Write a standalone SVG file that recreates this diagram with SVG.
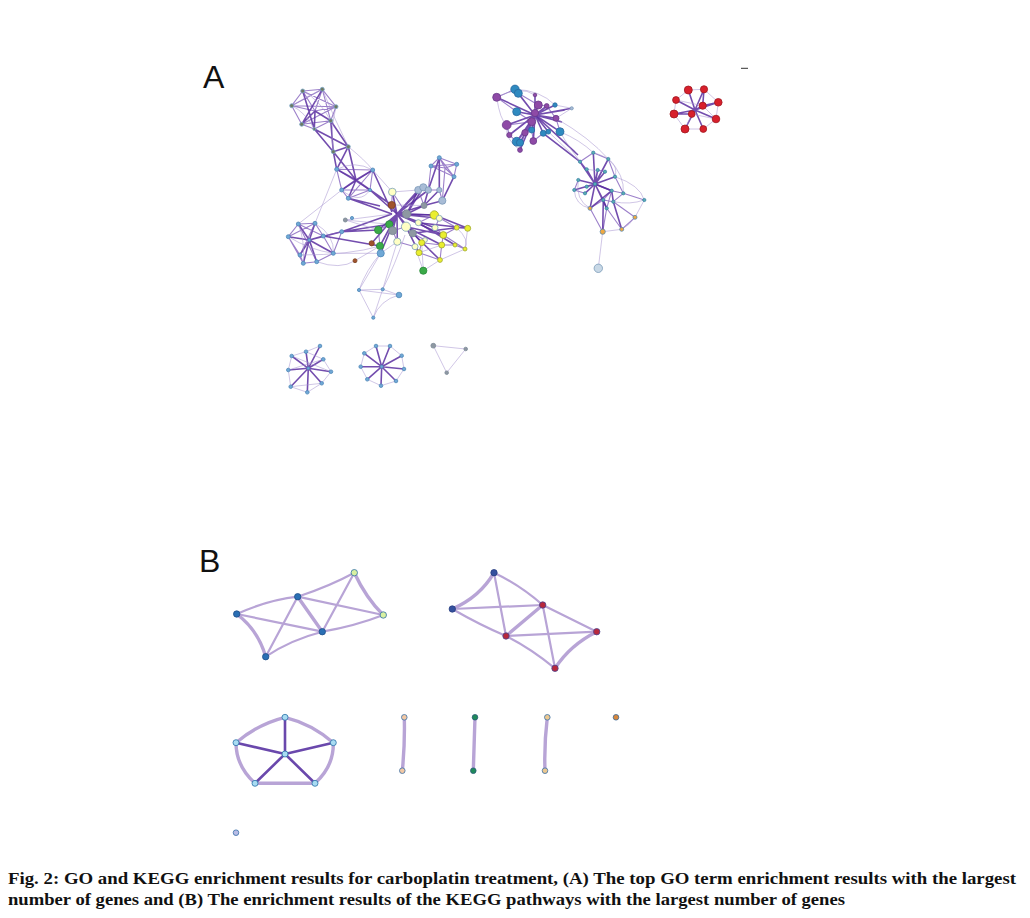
<svg xmlns="http://www.w3.org/2000/svg" width="1030" height="918" viewBox="0 0 1030 918">
<style>
.lbl{font-family:"Liberation Sans",Arial,sans-serif;font-size:32px;fill:#111}
.cap{font-family:"Liberation Serif","Times New Roman",serif;font-weight:bold;font-size:17px;fill:#111}
.d{stroke:#5a2ea0;stroke-width:1.6;fill:none;stroke-opacity:.85}
.m{stroke:#7b55b8;stroke-width:1.1;fill:none;stroke-opacity:.75}
.l{stroke:#a894d0;stroke-width:.9;fill:none;stroke-opacity:.6}
.bl{stroke:#b8a4d6;stroke-width:2.2;fill:none;stroke-linecap:round}
.bt{stroke:#b8a4d6;stroke-width:3.4;fill:none;stroke-linecap:round}
.bd{stroke:#6a48ac;stroke-width:2.6;fill:none;stroke-linecap:round}
circle{stroke-width:.8}
.sg{fill:#6e7a62;stroke:#7aa6c8}
.sb{fill:#6fa8d6;stroke:#4f88b8}
.py{fill:#ffffc4;stroke:#7aa0b8}
.ls{fill:#a8bcd6;stroke:#7a98b8}
.gr{fill:#8e98a2;stroke:#7a8896}
.br{fill:#a0522d;stroke:#7a4020}
.gn{fill:#3aaa48;stroke:#2a8a3a}
.yl{fill:#eaee30;stroke:#a0a830}
.pu{fill:#8e4aa6;stroke:#6a3a8a}
.bu{fill:#2f8ac0;stroke:#2a6aa0}
.tl{fill:#5ab0b0;stroke:#3a80a8}
.or{fill:#f0a840;stroke:#5a8ab0}
.rd{fill:#d8202c;stroke:#a0181f}
</style>

<text class="lbl" x="203" y="88">A</text>
<text class="lbl" x="199" y="572">B</text>
<line x1="741" y1="68.3" x2="748" y2="68.3" stroke="#333" stroke-width="1"/>

<g id="connectors">
<g id="edges-a-topleft">
<path class="m" d="M302.7,91L322.3,89.3M302.7,91L291.7,105.7M302.7,91L315,111M302.7,91L336,106.7M322.3,89.3L315,111M322.3,89.3L336,106.7M322.3,89.3L291.7,105.7M322.3,89.3L330.7,120.7M291.7,105.7L315,111M291.7,105.7L301.7,124.3M291.7,105.7L336,106.7M336,106.7L315,111M336,106.7L330.7,120.7M336,106.7L301.7,124.3M301.7,124.3L314.3,129M301.7,124.3L330.7,120.7M330.7,120.7L314.3,129"/>
<path class="d" d="M315,111L330.7,120.7M315,111L301.7,124.3M315,111L314.3,129M302.7,91L314.3,129M322.3,89.3L301.7,124.3M314.3,129L333.3,151.7M330.7,120.7L333.3,151.7M330.7,120.7L348.3,146.7M314.3,129L348.3,146.7M333.3,151.7L348.3,146.7M333.3,151.7L336.7,169.3M348.3,146.7L336.7,169.3M348.3,146.7L356,180M333.3,151.7L356,180"/>
<path class="l" d="M302.7,91Q320,100 330.7,120.7M291.7,105.7Q305,112 314.3,129M336,106.7Q330,130 333.3,151.7M322.3,89.3Q335,120 348.3,146.7M291.7,105.7Q310,95 322.3,89.3"/>
<path class="m" d="M336.7,169.3L372.7,170M336.7,169.3L341.7,190M372.7,170L370,190M341.7,190L348.3,198.3M348.3,198.3L370,190M336.7,169.3L370,190M372.7,170L341.7,190M341.7,190L370,190M348.3,198.3L372.7,170"/>
<path class="d" d="M356,180L336.7,169.3M356,180L372.7,170M356,180L341.7,190M356,180L348.3,198.3M356,180L370,190M348.3,198.3L380,206M370,190L391.7,205M356,180L391.7,205M370,190L397,214M372.7,170L392,212M348.3,198.3L392,214"/>
<path class="l" d="M336.7,169.3Q355,160 372.7,170M341.7,190Q360,205 370,190M348.3,146.7Q365,160 372.7,170"/>
</g>
<g id="edges-a-left">
<path class="d" d="M309.3,240L298.3,224M309.3,240L315,223.3M309.3,240L288.3,236.7M309.3,240L323.3,236M309.3,240L341.7,231.7M309.3,240L300,255M309.3,240L316.7,261.7M309.3,240L333.3,253.3M309.3,240L303.3,263.3"/>
<path class="m" d="M298.3,224L315,223.3M298.3,224L288.3,236.7M315,223.3L323.3,236M323.3,236L341.7,231.7M288.3,236.7L300,255M300,255L303.3,263.3M303.3,263.3L316.7,261.7M316.7,261.7L333.3,253.3M333.3,253.3L341.7,231.7M288.3,236.7L303.3,263.3M298.3,224L323.3,236M315,223.3L288.3,236.7M333.3,253.3L323.3,236M298.3,224L316.7,261.7M315,223.3L300,255"/>
<path class="l" d="M298.3,224Q305,240 303.3,263.3M288.3,236.7Q310,250 333.3,253.3M315,223.3Q335,235 333.3,253.3M298.3,224L341.7,190M315,223.3L336.7,169.3"/>
<path class="d" d="M341.7,231.7L378.3,230M341.7,231.7L389.3,224.3M341.7,231.7L392,214M323.3,236L380,246"/>
<path class="l" d="M333.3,253.3L380.7,253.3M300,255Q350,255 380,246M316.7,261.7Q340,270 355,260.7M345.3,220L378.3,230M345.3,220L392,214M345.3,220L389.3,224.3"/>
</g>
<g id="edges-a-center">
<path class="d" d="M397,214L392.3,192M397,214L391.7,205M397,214L406.7,214M397,214L389.3,224.3M397,214L378.3,230M397,214L406,226.7M397,214L392.7,230.7M397,214L418.3,222.7M397,214L412.7,233.3M397,214L397.3,241.7M397,214L380,246M397,214L371.7,243.3M397,214L424,205.5M397,214L418.3,190M397,214L434.3,215M397,214L439.3,218.3M397,214L423.3,187.3M397,214L428.3,190M397,214L435,227.7M397,214L380.7,253.3M397,214L421.7,242.7M397,214L443.3,235"/>
<path class="d" d="M406.7,214L424,205.5M406.7,214L434.3,215M406.7,214L418.3,190M406.7,214L423.3,187.3M406,226.7L441.7,245M406,226.7L443.3,235M406,226.7L419,252.7M412.7,233.3L440,260M412.7,233.3L456.7,227.7M418.3,222.7L467.7,228.3M418.3,222.7L455,245M424,205.5L428.3,190M424,205.5L442.3,200.7M424,205.5L439.3,190M428.3,190L439.3,157.7M439.3,190L439.3,157.7M442.3,200.7L454,176.7M434.3,215L467.7,228.3"/>
<path class="m" d="M392.3,192L391.7,205M392.3,192L406.7,214M418.3,190L423.3,187.3M423.3,187.3L428.3,190M428.3,190L439.3,190M439.3,190L442.3,200.7M418.3,190L424,205.5M389.3,224.3L378.3,230M378.3,230L380,246M380,246L380.7,253.3M389.3,224.3L392.7,230.7M392.7,230.7L397.3,241.7M406,226.7L392.7,230.7M397.3,241.7L415,246.7M415,246.7L419,252.7M419,252.7L421.7,242.7M421.7,242.7L441.7,245M441.7,245L443.3,235M443.3,235L456.7,227.7M456.7,227.7L467.7,228.3M441.7,245L455,245M455,245L465,249M440,260L441.7,245M440,260L419,252.7M435,227.7L443.3,235M434.3,215L439.3,218.3M439.3,218.3L435,227.7M412.7,233.3L425,240M425,240L421.7,242.7M434.3,215L456.7,227.7M443.3,235L465,249M418.3,222.7L434.3,215"/>
<path class="m" d="M439.3,157.7L431,166M439.3,157.7L456.7,164.3M431,166L454,176.7M456.7,164.3L454,176.7M431,166L456.7,164.3M439.3,157.7L454,176.7M445,168L439.3,157.7M445,168L431,166M445,168L456.7,164.3M445,168L454,176.7M431,166L428.3,190M445,168L442.3,200.7"/>
<path class="l" d="M421.7,242.7L423.3,270.7M440,260L423.3,270.7M415,246.7L423.3,270.7M380.7,253.3L359,290M397.3,241.7L382.7,289.3M380.7,253.3Q366,270 359,290M405,235Q395,265 382.7,289.3M419,252.7L441.7,245M440,260L465,249M467.7,228.3L465,249M456.7,227.7Q470,240 465,249M392.3,192L372.7,170M418.3,190L392.3,192M391.7,205L424,205.5M380.7,253.3L397.3,241.7M355,260.7L380,246"/>
</g>
<g id="edges-a-quad">
<path class="l" d="M359,290L382.7,289.3M359,290L373.3,317.7M382.7,289.3L373.3,317.7M382.7,289.3L399,295M399,295Q380,300 373.3,317.7M359,290L399,295"/>
</g>
<g id="edges-a-right">
<path class="d" d="M535,115L515,89.3M535,115L518.3,93.3M535,115L496.7,97.3M535,115L535,95M535,115L538.3,105M535,115L546.7,106M535,115L555,105M535,115L556,118.3M535,115L516.7,111.7M535,115L506.7,125M535,115L531.7,121.7M535,115L531.7,130M535,115L525,132.7M535,115L560,131.7M535,115L543.3,133.3M535,115L548.3,131.7M535,115L509.3,135M535,115L516.7,141.7M535,115L520,142.7M535,115L533.3,141M535,115L520,150M535,115L571.7,108.3M535,115L565,110M535,115L562,122"/>
<path class="m" d="M531.7,121.7L506.7,125M531.7,121.7L525,132.7M531.7,121.7L546.7,106M538.3,105L546.7,106M546.7,106L556,118.3M556,118.3L560,131.7M525,132.7L516.7,141.7M509.3,135L516.7,141.7M506.7,125L509.3,135M496.7,97.3L515,89.3M515,89.3L518.3,93.3M518.3,93.3L538.3,105M496.7,97.3L516.7,111.7M516.7,111.7L531.7,121.7M533.3,141L543.3,133.3M543.3,133.3L548.3,131.7M531.7,130L533.3,141M520,150L525,132.7"/>
<path class="l" d="M496.7,97.3Q520,85 535,95M496.7,97.3Q500,120 506.7,125M506.7,125Q505,140 520,150M515,89.3Q540,90 555,105M555,105L571.7,108.3M571.7,108.3L556,118.3"/>
<path class="d" d="M535,115L578,155M543.3,133.3L580,161.7M535,115L575,152"/>
<path class="l" d="M560,131.7Q580,140 593.3,152.7M556,118.3Q590,138 608.3,159M560,131.7Q570,150 586.7,169.3M548.3,131.7L580,161.7"/>
<path class="d" d="M595,184L593.3,152.7M595,184L608.3,159M595,184L580,161.7M595,184L586.7,169.3M595,184L597.7,170M595,184L605,171.7M595,184L578.3,180M595,184L615,176.7M595,184L586.7,186.7M595,184L574.3,190M595,184L585,193.3M595,184L611.7,190.7M595,184L603.3,200M595,184L590,208.3M595,184L606.7,208.3"/>
<path class="m" d="M593.3,152.7L608.3,159M608.3,159L615,176.7M580,161.7L586.7,169.3M578.3,180L574.3,190M574.3,190L585,193.3M611.7,190.7L623.3,193.3M623.3,193.3L613.3,201.7M613.3,201.7L603.3,200M603.3,200L590,208.3M590,208.3L602.7,231.7M606.7,208.3L602.7,231.7M606.7,208.3L621.7,229.3M621.7,229.3L635,217.3M613.3,201.7L635,217.3M623.3,193.3L644.3,200M611.7,190.7L603.3,200M611.7,190.7L606.7,208.3M615,176.7L623.3,193.3M580,161.7L593.3,152.7M597.7,170L605,171.7"/>
<path class="d" d="M611.7,190.7L613.3,201.7M611.7,190.7L590,208.3M603.3,200L606.7,208.3M613.3,201.7L621.7,229.3M603.3,200L602.7,231.7M611.7,190.7L595,184"/>
<path class="l" d="M593.3,152.7Q620,160 615,176.7M615,176.7Q640,185 644.3,200M644.3,200L635,217.3M635,217.3Q630,225 621.7,229.3M621.7,229.3L602.7,231.7M574.3,190Q575,205 590,208.3M578.3,180Q575,200 590,208.3M602.7,231.7L598.3,268.3M608.3,159Q625,175 623.3,193.3M586.7,169.3L605,171.7M644.3,200Q630,205 613.3,201.7"/>
</g>
<g id="edges-a-red">
<path class="d" d="M695,110L688.3,90M695,110L704,89.3M695,110L676,100M695,110L718.3,102.3M695,110L702.7,105.7M695,110L674,114M695,110L691.7,114M695,110L716,119M695,110L685,129M695,110L703.3,129M702.7,105.7L718.3,102.3M691.7,114L674,114M702.7,105.7L704,89.3"/>
<path class="l" d="M688.3,90L704,89.3M704,89.3L718.3,102.3M718.3,102.3L716,119M716,119L703.3,129M703.3,129L685,129M685,129L674,114M674,114L676,100M676,100L688.3,90M676,100L702.7,105.7M691.7,114L716,119M691.7,114L685,129M702.7,105.7L716,119"/>
</g>
<g id="edges-a-stars">
<path class="d" d="M308.3,368.3L320,346M308.3,368.3L306,351.7M308.3,368.3L291.7,356M308.3,368.3L323.3,359.3M308.3,368.3L288.3,370M308.3,368.3L331,371.7M308.3,368.3L321.7,383.3M308.3,368.3L290.7,386.7M308.3,368.3L307.3,392.3"/>
<path class="l" d="M306,351.7L291.7,356M306,351.7L323.3,359.3M291.7,356L288.3,370M323.3,359.3L331,371.7M331,371.7L321.7,383.3M321.7,383.3L307.3,392.3M307.3,392.3L290.7,386.7M290.7,386.7L288.3,370M320,346L306,351.7M291.7,356L331,371.7M288.3,370L323.3,359.3M290.7,386.7L321.7,383.3"/>
<path class="d" d="M381.7,366.7L376,346M381.7,366.7L390,346M381.7,366.7L364.3,353.3M381.7,366.7L401.7,355.7M381.7,366.7L360.7,366.7M381.7,366.7L404,369M381.7,366.7L367.3,379.3M381.7,366.7L396,381M381.7,366.7L381,385.7"/>
<path class="l" d="M376,346L390,346M390,346L401.7,355.7M401.7,355.7L404,369M404,369L396,381M396,381L381,385.7M381,385.7L367.3,379.3M367.3,379.3L360.7,366.7M360.7,366.7L364.3,353.3M364.3,353.3L376,346"/>
<path class="l" d="M433.3,345.7L465.7,349L446.7,372.7Z"/>
</g>
<g id="edges-b">
<path class="bl" d="M236.7,614Q268,600 297.7,596.7"/>
<path class="bl" d="M236.7,614L322.3,631.7"/>
<path class="bt" d="M236.7,614Q258,630 265.7,656.7"/>
<path class="bl" d="M297.7,596.7L265.7,656.7"/>
<path class="bt" d="M297.7,596.7L322.3,631.7"/>
<path class="bl" d="M297.7,596.7Q330,586 354.3,572.7"/>
<path class="bl" d="M297.7,596.7L383.3,615"/>
<path class="bl" d="M322.3,631.7L354.3,572.7"/>
<path class="bl" d="M322.3,631.7Q355,626 383.3,615"/>
<path class="bt" d="M354.3,572.7Q366,598 383.3,615"/>
<path class="bl" d="M265.7,656.7Q290,640 322.3,631.7"/>
<path class="bt" d="M494,572.7Q480,597 452.3,609"/>
<path class="bl" d="M494,572.7Q520,585 542.7,605"/>
<path class="bl" d="M494,572.7L506,636"/>
<path class="bl" d="M452.3,609L542.7,605"/>
<path class="bl" d="M452.3,609Q480,625 506,636"/>
<path class="bt" d="M542.7,605L506,636"/>
<path class="bl" d="M542.7,605L596.7,631.7"/>
<path class="bl" d="M542.7,605L555,668.3"/>
<path class="bl" d="M506,636L596.7,631.7"/>
<path class="bl" d="M506,636Q530,648 555,668.3"/>
<path class="bt" d="M596.7,631.7Q570,645 555,668.3"/>
<path class="bt" d="M285,717.3Q258,724 236,742.7"/>
<path class="bt" d="M285,717.3Q312,724 333.3,742.7"/>
<path class="bt" d="M236,742.7Q236,766 255,783.3"/>
<path class="bt" d="M333.3,742.7Q334,766 315,783.3"/>
<path class="bt" d="M255,783.3L315,783.3"/>
<path class="bd" d="M285,754L285,717.3M285,754L236,742.7M285,754L333.3,742.7M285,754L255,783.3M285,754L315,783.3"/>
<path class="bt" d="M404.3,717.3Q405,745 402.3,770.7"/>
<path class="bt" d="M475,717.3L473.3,770.7"/>
<path class="bt" d="M547.3,717.3Q544,745 545,770.7"/>
</g>
</g>

<g id="nodes">
<g id="cluster-a-topleft">
<circle class="sg" cx="302.7" cy="91" r="2"/><circle class="sg" cx="322.3" cy="89.3" r="2"/><circle class="sg" cx="291.7" cy="105.7" r="2"/><circle class="sg" cx="336" cy="106.7" r="2"/><circle class="sg" cx="330.7" cy="120.7" r="2"/><circle class="sg" cx="301.7" cy="124.3" r="2"/><circle class="sg" cx="314.3" cy="129" r="1.5"/><circle class="sg" cx="333.3" cy="151.7" r="2"/><circle class="sg" cx="348.3" cy="146.7" r="2"/>
<circle class="sb" cx="336.7" cy="169.3" r="2"/><circle class="sb" cx="372.7" cy="170" r="2"/><circle class="sb" cx="341.7" cy="190" r="2"/><circle class="sb" cx="348.3" cy="198.3" r="2"/><circle class="sb" cx="370" cy="190" r="1.6"/>
</g>
<g id="cluster-a-left">
<circle class="sb" cx="298.3" cy="224" r="2"/><circle class="sb" cx="315" cy="223.3" r="2"/><circle class="sb" cx="288.3" cy="236.7" r="2"/><circle class="sb" cx="323.3" cy="236" r="2"/><circle class="sb" cx="341.7" cy="231.7" r="2"/><circle class="sb" cx="309.3" cy="240" r="1.6"/><circle class="sb" cx="300" cy="255" r="2"/><circle class="sb" cx="316.7" cy="261.7" r="2"/><circle class="sb" cx="333.3" cy="253.3" r="2"/><circle class="sb" cx="303.3" cy="263.3" r="2"/>
</g>
<g id="cluster-a-center">
<circle class="sb" cx="352" cy="218" r="1.6"/><circle class="gr" cx="345.3" cy="220" r="2"/>
<circle class="py" cx="392.3" cy="192" r="3.8"/>
<circle class="ls" cx="418.3" cy="190" r="3.6"/><circle class="ls" cx="423.3" cy="187.3" r="3.6"/><circle class="ls" cx="428.3" cy="190" r="3.2"/><circle class="ls" cx="439.3" cy="190" r="2.6"/><circle class="ls" cx="442.3" cy="200.7" r="3.6"/>
<circle class="sb" cx="439.3" cy="157.7" r="2"/><circle class="sb" cx="431" cy="166" r="2"/><circle class="sb" cx="456.7" cy="164.3" r="2"/><circle class="sb" cx="454" cy="176.7" r="2"/>
<circle class="gr" cx="424" cy="205.5" r="3"/>
<circle class="br" cx="391.7" cy="205" r="3.6"/>
<circle class="gr" cx="406.7" cy="214" r="4.2"/>
<circle class="yl" cx="434.3" cy="215" r="4.2"/>
<circle class="py" cx="439.3" cy="218.3" r="3"/>
<circle class="gn" cx="389.3" cy="224.3" r="3.6"/>
<circle class="gn" cx="378.3" cy="230" r="3.8"/>
<circle class="py" cx="406" cy="226.7" r="4.6"/>
<circle class="gr" cx="392.7" cy="230.7" r="4"/>
<circle class="py" cx="418.3" cy="222.7" r="3"/>
<circle class="gr" cx="412.7" cy="233.3" r="3.6"/>
<circle class="py" cx="397.3" cy="241.7" r="3.6"/>
<circle class="gn" cx="380" cy="246" r="3.6"/>
<circle class="br" cx="371.7" cy="243.3" r="2.6"/>
<circle class="sb" cx="380.7" cy="253.3" r="3.6"/>
<circle class="br" cx="355" cy="260.7" r="2"/>
<circle class="gn" cx="423.3" cy="270.7" r="3.6"/>
<circle class="py" cx="435" cy="227.7" r="3"/>
<circle class="py" cx="415" cy="246.7" r="3"/>
<circle class="py" cx="425" cy="240" r="2.4"/>
<circle class="yl" cx="421.7" cy="242.7" r="3"/>
<circle class="yl" cx="419" cy="252.7" r="3"/>
<circle class="yl" cx="441.7" cy="245" r="3"/>
<circle class="yl" cx="443.3" cy="235" r="3.4"/>
<circle class="yl" cx="456.7" cy="227.7" r="2.4"/>
<circle class="yl" cx="467.7" cy="228.3" r="3"/>
<circle class="yl" cx="440" cy="260" r="2.4"/>
<circle class="yl" cx="455" cy="245" r="2"/>
<circle class="yl" cx="465" cy="249" r="2"/>
</g>
<g id="cluster-a-quad">
<circle class="sb" cx="359" cy="290" r="1.6"/><circle class="sb" cx="382.7" cy="289.3" r="1.6"/><circle class="sb" cx="399" cy="295" r="2.8"/><circle class="sb" cx="373.3" cy="317.7" r="1.6"/>
</g>
<g id="cluster-a-right">
<circle class="bu" cx="515" cy="89.3" r="4.2"/><circle class="bu" cx="518.3" cy="93.3" r="4"/><circle class="pu" cx="496.7" cy="97.3" r="4"/><circle class="pu" cx="535" cy="95" r="1.8"/><circle class="pu" cx="538.3" cy="105" r="4"/><circle class="pu" cx="546.7" cy="106" r="2.4"/><circle class="bu" cx="555" cy="105" r="2.2"/><circle class="pu" cx="556" cy="118.3" r="3"/><circle class="bu" cx="516.7" cy="111.7" r="4"/><circle class="pu" cx="506.7" cy="125" r="4.4"/><circle class="pu" cx="531.7" cy="121.7" r="4"/><circle class="bu" cx="531.7" cy="130" r="3"/><circle class="pu" cx="525" cy="132.7" r="3.2"/><circle class="bu" cx="560" cy="131.7" r="4"/><circle class="bu" cx="543.3" cy="133.3" r="3"/><circle class="bu" cx="548.3" cy="131.7" r="2.4"/><circle class="pu" cx="509.3" cy="135" r="2.6"/><circle class="bu" cx="516.7" cy="141.7" r="4.4"/><circle class="bu" cx="520" cy="142.7" r="3.6"/><circle class="pu" cx="533.3" cy="141" r="3.4"/><circle class="pu" cx="520" cy="150" r="2.4"/><circle class="ls" cx="571.7" cy="108.3" r="1.6"/><circle class="pu" cx="535" cy="113" r="3.6"/>
<circle class="tl" cx="593.3" cy="152.7" r="1.6"/><circle class="tl" cx="608.3" cy="159" r="1.6"/><circle class="tl" cx="580" cy="161.7" r="1.6"/><circle class="tl" cx="586.7" cy="169.3" r="1.6"/><circle class="tl" cx="597.7" cy="170" r="1.6"/><circle class="tl" cx="605" cy="171.7" r="1.6"/><circle class="tl" cx="578.3" cy="180" r="1.6"/><circle class="tl" cx="595" cy="184" r="1.6"/><circle class="tl" cx="615" cy="176.7" r="1.6"/><circle class="tl" cx="586.7" cy="186.7" r="1.6"/><circle class="tl" cx="574.3" cy="190" r="1.6"/><circle class="tl" cx="585" cy="193.3" r="1.6"/><circle class="tl" cx="611.7" cy="190.7" r="1.6"/><circle class="tl" cx="623.3" cy="193.3" r="1.6"/><circle class="tl" cx="603.3" cy="200" r="1.6"/><circle class="tl" cx="613.3" cy="201.7" r="1.6"/><circle class="tl" cx="644.3" cy="200" r="1.6"/><circle class="or" cx="590" cy="208.3" r="2"/><circle class="tl" cx="606.7" cy="208.3" r="1.6"/><circle class="or" cx="635" cy="217.3" r="2"/><circle class="or" cx="621.7" cy="229.3" r="2"/><circle class="or" cx="602.7" cy="231.7" r="2.6"/>
<circle fill="#c8d8e6" stroke="#7a9ab8" cx="598.3" cy="268.3" r="4.2"/>
</g>
<g id="cluster-a-red">
<circle class="rd" cx="688.3" cy="90" r="4"/><circle class="rd" cx="704" cy="89.3" r="3.6"/><circle class="rd" cx="676" cy="100" r="3.4"/><circle class="rd" cx="718.3" cy="102.3" r="3.8"/><circle class="rd" cx="702.7" cy="105.7" r="3.6"/><circle class="rd" cx="674" cy="114" r="4"/><circle class="rd" cx="691.7" cy="114" r="3.4"/><circle class="rd" cx="716" cy="119" r="3.8"/><circle class="rd" cx="685" cy="129" r="4"/><circle class="rd" cx="703.3" cy="129" r="3.4"/>
</g>
<g id="cluster-a-star1">
<circle class="sb" cx="320" cy="346" r="1.8"/><circle class="sb" cx="306" cy="351.7" r="1.8"/><circle class="sb" cx="291.7" cy="356" r="1.8"/><circle class="sb" cx="323.3" cy="359.3" r="1.8"/><circle class="sb" cx="288.3" cy="370" r="1.8"/><circle class="sb" cx="331" cy="371.7" r="1.8"/><circle class="sb" cx="321.7" cy="383.3" r="1.8"/><circle class="sb" cx="290.7" cy="386.7" r="1.8"/><circle class="sb" cx="307.3" cy="392.3" r="1.8"/><circle class="sb" cx="308.3" cy="368.3" r="1.4"/>
</g>
<g id="cluster-a-star2">
<circle class="sb" cx="376" cy="346" r="1.8"/><circle class="sb" cx="390" cy="346" r="1.8"/><circle class="sb" cx="364.3" cy="353.3" r="1.8"/><circle class="sb" cx="401.7" cy="355.7" r="1.8"/><circle class="sb" cx="360.7" cy="366.7" r="1.8"/><circle class="sb" cx="404" cy="369" r="1.8"/><circle class="sb" cx="367.3" cy="379.3" r="1.8"/><circle class="sb" cx="396" cy="381" r="1.8"/><circle class="sb" cx="381" cy="385.7" r="1.8"/><circle class="sb" cx="381.7" cy="366.7" r="1.6"/>
</g>
<g id="cluster-a-triangle">
<circle class="gr" cx="433.3" cy="345.7" r="2.4"/><circle class="gr" cx="465.7" cy="349" r="1.8"/><circle class="gr" cx="446.7" cy="372.7" r="1.8"/>
</g>
<g id="cluster-b1">
<circle fill="#2a6fb4" stroke="#1f4f8a" cx="236.7" cy="614" r="3.2"/><circle fill="#2a6fb4" stroke="#1f4f8a" cx="297.7" cy="596.7" r="3.2"/><circle fill="#d8f0a0" stroke="#2f6fa8" stroke-width="1.4" cx="354.3" cy="572.7" r="3.2"/><circle fill="#d8f0a0" stroke="#2f6fa8" stroke-width="1.4" cx="383.3" cy="615" r="3.2"/><circle fill="#2a6fb4" stroke="#1f4f8a" cx="322.3" cy="631.7" r="3.2"/><circle fill="#2a6fb4" stroke="#1f4f8a" cx="265.7" cy="656.7" r="3.2"/>
</g>
<g id="cluster-b2">
<circle fill="#34509e" stroke="#283e80" cx="494" cy="572.7" r="3.2"/><circle fill="#34509e" stroke="#283e80" cx="452.3" cy="609" r="3.2"/><circle fill="#b8283c" stroke="#4a4490" stroke-width="1.3" cx="542.7" cy="605" r="3.2"/><circle fill="#b8283c" stroke="#4a4490" stroke-width="1.3" cx="506" cy="636" r="3.2"/><circle fill="#b8283c" stroke="#4a4490" stroke-width="1.3" cx="596.7" cy="631.7" r="3.2"/><circle fill="#b8283c" stroke="#4a4490" stroke-width="1.3" cx="555" cy="668.3" r="3.2"/>
</g>
<g id="cluster-b3">
<circle fill="#a8dcf2" stroke="#2a70a8" stroke-width="1.4" cx="285" cy="717.3" r="3"/><circle fill="#a8dcf2" stroke="#2a70a8" stroke-width="1.4" cx="236" cy="742.7" r="3"/><circle fill="#a8dcf2" stroke="#2a70a8" stroke-width="1.4" cx="333.3" cy="742.7" r="3"/><circle fill="#a8dcf2" stroke="#2a70a8" stroke-width="1.4" cx="255" cy="783.3" r="3"/><circle fill="#a8dcf2" stroke="#2a70a8" stroke-width="1.4" cx="315" cy="783.3" r="3"/><circle fill="#a8dcf2" stroke="#2a70a8" stroke-width="1.4" cx="285" cy="754" r="3"/>
</g>
<g id="pair-b1"><circle fill="#f2c8a4" stroke="#3a70a8" stroke-width="1.3" cx="404.3" cy="717.3" r="2.8"/><circle fill="#f2c8a4" stroke="#3a70a8" stroke-width="1.3" cx="402.3" cy="770.7" r="2.8"/></g>
<g id="pair-b2"><circle fill="#1f8a5a" stroke="#2a5a78" stroke-width="1.3" cx="475" cy="717.3" r="2.8"/><circle fill="#1f8a5a" stroke="#2a5a78" stroke-width="1.3" cx="473.3" cy="770.7" r="2.8"/></g>
<g id="pair-b3"><circle fill="#ecc890" stroke="#3a70a8" stroke-width="1.3" cx="547.3" cy="717.3" r="2.8"/><circle fill="#ecc890" stroke="#3a70a8" stroke-width="1.3" cx="545" cy="770.7" r="2.8"/></g>
<g id="single-b1"><circle fill="#d8883c" stroke="#3a6a98" stroke-width="1.3" cx="616" cy="717.3" r="2.8"/></g>
<g id="single-b2"><circle fill="#b8bce6" stroke="#3a70a8" stroke-width="1.3" cx="236" cy="832.7" r="2.8"/></g>
</g>

<text class="cap" x="8" y="884" textLength="1008" lengthAdjust="spacingAndGlyphs">Fig. 2: GO and KEGG enrichment results for carboplatin treatment, (A) The top GO term enrichment results with the largest</text>
<text class="cap" x="8" y="905" textLength="837" lengthAdjust="spacingAndGlyphs">number of genes and (B) The enrichment results of the KEGG pathways with the largest number of genes</text>
</svg>
